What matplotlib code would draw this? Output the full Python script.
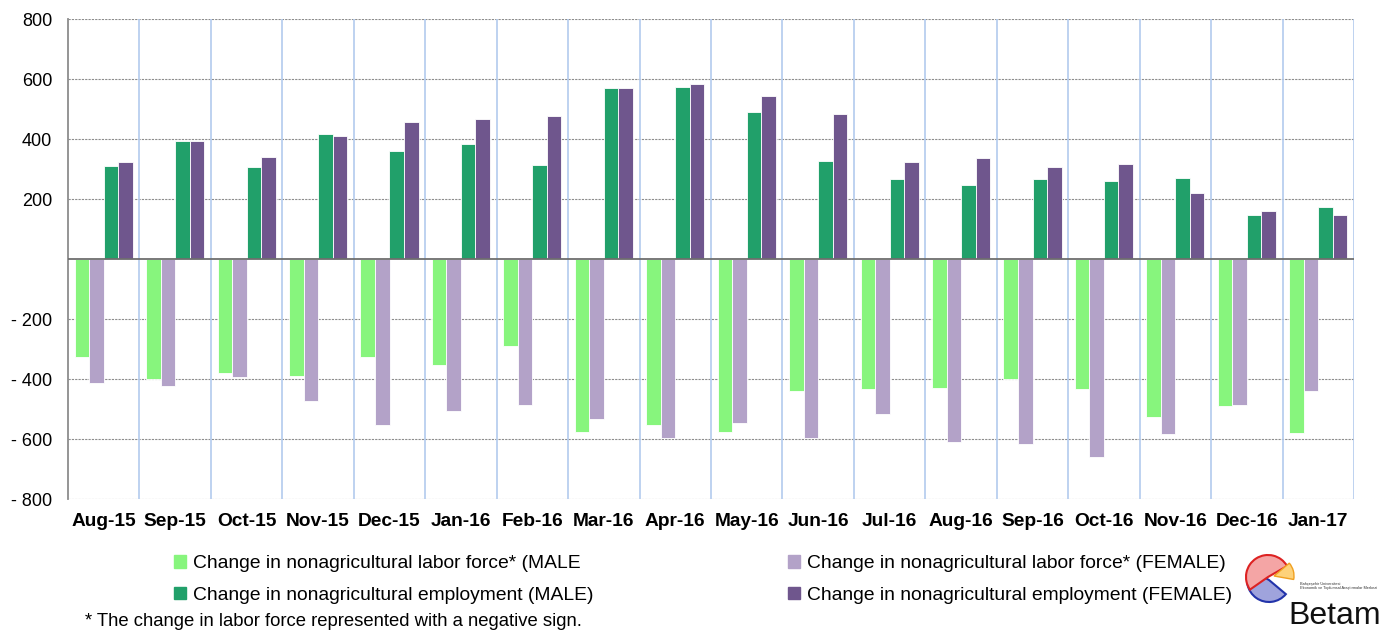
import matplotlib
matplotlib.use("Agg")
import matplotlib.pyplot as plt
import numpy as np
from matplotlib.patches import Wedge, Patch

plt.rcParams['font.family'] = ['Liberation Sans', 'DejaVu Sans']

months = ["Aug-15", "Sep-15", "Oct-15", "Nov-15", "Dec-15", "Jan-16", "Feb-16", "Mar-16",
          "Apr-16", "May-16", "Jun-16", "Jul-16", "Aug-16", "Sep-16", "Oct-16", "Nov-16",
          "Dec-16", "Jan-17"]
labor_male = [-328, -401, -381, -390, -326, -353, -290, -577, -553, -577, -440, -433, -430,
              -400, -433, -526, -490, -581]
labor_female = [-413, -422, -392, -472, -554, -507, -487, -533, -597, -547, -597, -517, -610,
                -617, -661, -584, -487, -439]
emp_male = [311, 393, 308, 418, 359, 383, 313, 570, 573, 490, 327, 267, 247, 267, 261, 270, 146, 173]
emp_female = [322, 393, 341, 411, 457, 467, 477, 570, 584, 543, 483, 323, 337, 306, 318, 220, 161, 146]
y_ticks = [800, 600, 400, 200, 0, -200, -400, -600, -800]
y_labels = ["800", "600", "400", "200", "", "- 200", "- 400", "- 600", "- 800"]

c_lm = "#87F57D"
c_lf = "#B3A2C8"
c_em = "#21A06A"
c_ef = "#6F568D"

fig = plt.figure(figsize=(13.82, 6.31), dpi=100)
ax = fig.add_axes([68/1382, 1-499/631, (1354-68)/1382, (499-19)/631])

x = np.arange(len(months))
w = 0.203
series = [(labor_male, c_lm), (labor_female, c_lf), (emp_male, c_em), (emp_female, c_ef)]
for i, (vals, col) in enumerate(series):
    ax.bar(x + (i - 1.5) * w, vals, width=w, color=col, edgecolor="white", linewidth=0.6, zorder=3)

ax.set_xlim(-0.5, len(months) - 0.5)
ax.set_ylim(-800, 800)
ax.set_yticks(y_ticks)
ax.set_yticklabels(y_labels, fontsize=13)
ax.set_xticks(x)
ax.set_xticklabels(months, fontsize=13.8, fontweight="bold")
ax.tick_params(axis="both", length=0)
ax.tick_params(axis="x", pad=10)
ax.tick_params(axis="y", pad=11.5)

for yv in y_ticks:
    if yv != 0:
        ax.axhline(yv, color="#8c8c8c", linestyle=(0, (2, 1)), linewidth=0.8, zorder=1)
for b in np.arange(0.5, len(months), 1.0):
    ax.axvline(b, color="#B3CBEE", linewidth=1.2, zorder=1)
ax.axhline(0, color="#6e6e6e", linewidth=1.3, zorder=4)

for s in ["top", "right", "bottom"]:
    ax.spines[s].set_visible(False)
ax.spines["left"].set_color("#8c8c8c")
ax.spines["left"].set_linewidth(1.3)

handles = [Patch(color=c_lm, label="Change in nonagricultural labor force* (MALE"),
           Patch(color=c_em, label="Change in nonagricultural employment (MALE)"),
           Patch(color=c_lf, label="Change in nonagricultural labor force* (FEMALE)"),
           Patch(color=c_ef, label="Change in nonagricultural employment (FEMALE)")]
fig.legend(handles=handles, ncol=2, loc="upper left", bbox_to_anchor=(174/1382, 1-555/631),
           frameon=False, fontsize=13.9, handlelength=0.62, handleheight=0.62, handletextpad=0.35,
           columnspacing=10.1, labelspacing=0.75, borderaxespad=0, borderpad=0)

fig.text(85/1382, 1-621/631, "* The change in labor force represented with a negative sign.",
         fontsize=13.3, va="center", ha="left")

# Betam logo approximation
lax = fig.add_axes([1240/1382, 1-630/631, 142/1382, 84/631])
lax.set_xlim(0, 142)
lax.set_ylim(0, 84)
lax.set_aspect("equal")
lax.axis("off")
lax.add_patch(Wedge((29, 50), 22, 150, 320, facecolor="#9FA3DC", edgecolor="#2233AA", linewidth=1.5))
lax.add_patch(Wedge((28, 53), 22, 30, 215, facecolor="#F4A5A5", edgecolor="#DD2222", linewidth=1.5))
lax.add_patch(Wedge((34, 54), 20, -10, 40, facecolor="#FDD27A", edgecolor="#F0A020", linewidth=1))
lax.text(60, 45, "Bahçeşehir Üniversitesi", fontsize=2.8, color="#333333")
lax.text(60, 41, "Ekonomik ve Toplumsal Araştırmalar Merkezi", fontsize=2.8, color="#333333")
lax.text(48, 6, "Betam", fontsize=23, color="#111111")

fig.savefig("out.png", dpi=100)
